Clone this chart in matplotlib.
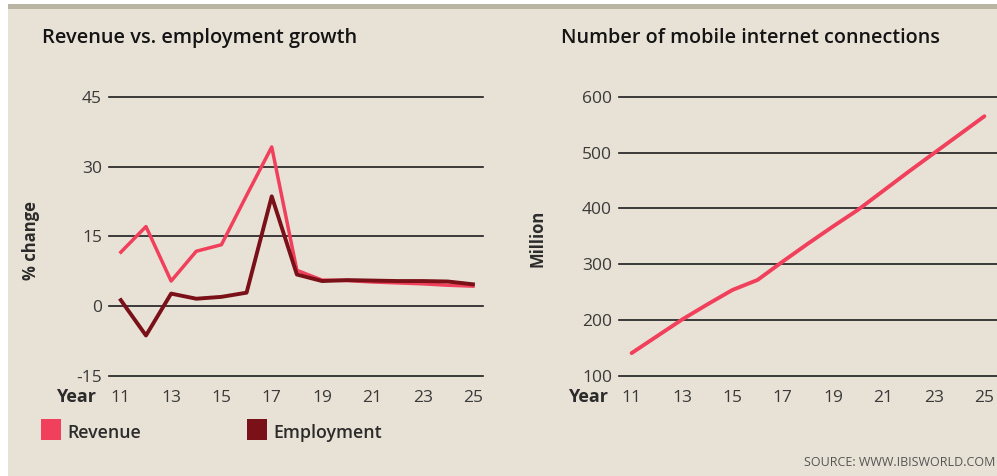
import matplotlib
matplotlib.use("Agg")
import matplotlib.pyplot as plt
from matplotlib.patches import Rectangle

plt.rcParams["font.family"] = ["Open Sans", "DejaVu Sans"]
plt.rcParams["axes.unicode_minus"] = False

# growth data (% change) by year
years = [11, 12, 13, 14, 15, 16, 17, 18, 19, 20, 21, 22, 23, 24, 25]
revenue = [11.6, 17.1, 5.4, 11.8, 13.2, 23.8, 34.2, 7.7, 5.6, 5.5, 5.2, 5.0, 4.8, 4.5, 4.3]
employment = [1.3, -6.3, 2.7, 1.6, 2.0, 2.9, 23.6, 6.8, 5.4, 5.6, 5.5, 5.4, 5.4, 5.3, 4.7]

# mobile internet connections (million)
connections = [141, 171, 201, 228, 254, 272, 305, 337, 368, 398, 432, 466, 499, 532, 565]

xticks = [11, 13, 15, 17, 19, 21, 23, 25]
growth_yticks = [-15, 0, 15, 30, 45]
conn_yticks = [100, 200, 300, 400, 500, 600]

BG = "#e8e2d6"
REV_COLOR = "#f0405c"
EMP_COLOR = "#7a1018"
TXT = "#2b2b2b"
W, H = 997, 476

fig = plt.figure(figsize=(W / 100, H / 100), dpi=100)
fig.patch.set_facecolor("white")
fig.patches.append(Rectangle((8 / W, 0), 1, 1 - 9 / H, transform=fig.transFigure,
                             facecolor=BG, edgecolor="none", zorder=-2))
fig.patches.append(Rectangle((8 / W, 1 - 9 / H), 1, 5 / H, transform=fig.transFigure,
                             facecolor="#b9b5a2", edgecolor="none", zorder=-2))

ax1 = fig.add_axes([109 / W, 1 - 376 / H, 374 / W, 279.3 / H])
ax2 = fig.add_axes([619 / W, 1 - 376 / H, 378 / W, 279.3 / H])


def style(ax, yticks, xlim):
    ax.set_facecolor("none")
    for s in ax.spines.values():
        s.set_visible(False)
    ax.set_xlim(*xlim)
    ax.set_ylim(yticks[0], yticks[-1])
    ax.set_yticks(yticks)
    ax.set_xticks(xticks)
    for v in yticks:
        ax.axhline(v, color="#1e1e1e", lw=1.2, clip_on=False, zorder=1)
    ax.tick_params(length=0, labelsize=12.5, colors="#3a3a3a")
    ax.tick_params(axis="y", pad=5)
    ax.tick_params(axis="x", pad=10)


style(ax1, growth_yticks, (10.53, 25.4))
ax1.plot(years, revenue, color=REV_COLOR, lw=2.5, solid_joinstyle="round", zorder=3)
ax1.plot(years, employment, color=EMP_COLOR, lw=2.8, solid_joinstyle="round", zorder=4)

style(ax2, conn_yticks, (10.5, 25.5))
ax2.plot(years, connections, color=REV_COLOR, lw=2.8, solid_capstyle="round", zorder=3)

# titles and axis labels
fig.text(42 / W, 1 - 38 / H, "Revenue vs. employment growth", fontsize=14.4,
         fontweight="semibold", color="#141414", va="center")
fig.text(561 / W, 1 - 38 / H, "Number of mobile internet connections", fontsize=14.2,
         fontweight="semibold", color="#141414", va="center")
fig.text(31 / W, 1 - 240 / H, "% change", rotation=90, fontsize=12,
         fontweight="bold", color=TXT, ha="center", va="center")
fig.text(537 / W, 1 - 238 / H, "Million", rotation=90, fontsize=12,
         fontweight="bold", color=TXT, ha="center", va="center")
fig.text(96 / W, 1 - 397 / H, "Year", fontsize=13, fontweight="bold",
         color=TXT, ha="right", va="center")
fig.text(608 / W, 1 - 397 / H, "Year", fontsize=13, fontweight="bold",
         color=TXT, ha="right", va="center")

# legend
for x0, color, label in [(41, REV_COLOR, "Revenue"), (247, EMP_COLOR, "Employment")]:
    fig.patches.append(Rectangle((x0 / W, 1 - 440 / H), 20 / W, 21 / H,
                                 transform=fig.transFigure, facecolor=color,
                                 edgecolor="none"))
    fig.text((x0 + 26) / W, 1 - 433 / H, label, fontsize=12.8, fontweight="semibold",
             color=TXT, va="center")

fig.text(995 / W, 1 - 463 / H, "SOURCE: WWW.IBISWORLD.COM", fontsize=9,
         color="#555555", ha="right", va="center")

fig.savefig("out.png", dpi=100)
